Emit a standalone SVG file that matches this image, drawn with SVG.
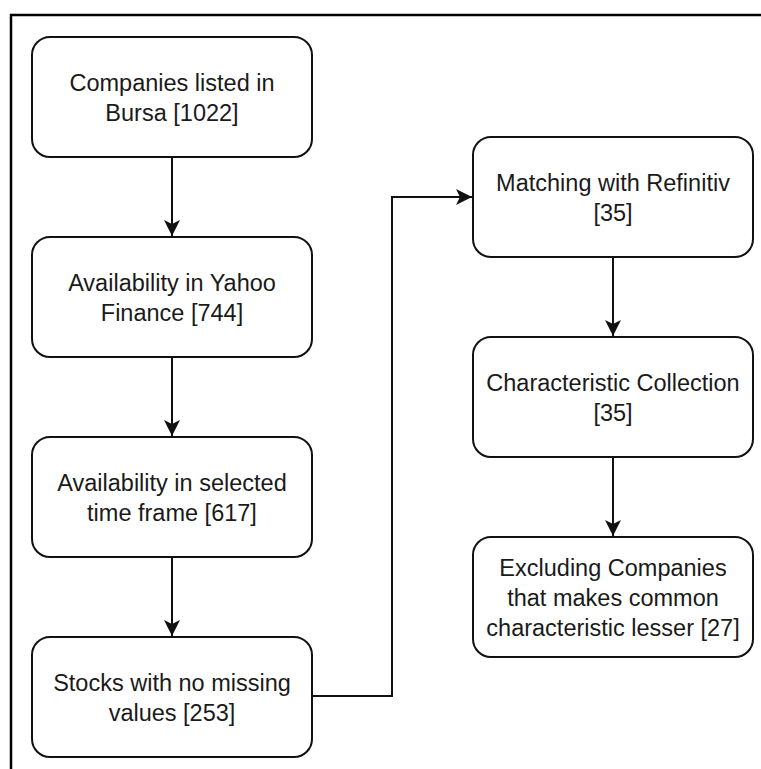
<svg xmlns="http://www.w3.org/2000/svg" width="761" height="769" viewBox="0 0 761 769">
<style>
.box{fill:#fff;stroke:#111;stroke-width:2}
.lbl{font-family:"Liberation Sans",Arial,sans-serif;font-size:23.5px;fill:#1a1a1a;text-anchor:middle}
.edge{fill:none;stroke:#111;stroke-width:2}
</style>
<defs>
<marker id="arr" viewBox="0 0 18 18" refX="17" refY="9" markerWidth="18" markerHeight="18" markerUnits="userSpaceOnUse" orient="auto">
<path d="M1,1 L17,9 L1,17 L5,9 Z" fill="#111"/>
</marker>
</defs>
<rect width="761" height="769" fill="#fff"/>
<path d="M11,769 V15 H761" fill="none" stroke="#000" stroke-width="2.5"/>
<g id="n1"><rect class="box" x="32" y="37" width="280" height="120" rx="18"/><text class="lbl" x="172" y="91">Companies listed in</text><text class="lbl" x="172" y="121">Bursa [1022]</text></g>
<g id="n2"><rect class="box" x="32" y="237" width="280" height="120" rx="18"/><text class="lbl" x="172" y="291">Availability in Yahoo</text><text class="lbl" x="172" y="321">Finance [744]</text></g>
<g id="n3"><rect class="box" x="32" y="437" width="280" height="120" rx="18"/><text class="lbl" x="172" y="491">Availability in selected</text><text class="lbl" x="172" y="521">time frame [617]</text></g>
<g id="n4"><rect class="box" x="32" y="637" width="280" height="120" rx="18"/><text class="lbl" x="172" y="691">Stocks with no missing</text><text class="lbl" x="172" y="721">values [253]</text></g>
<g id="n5"><rect class="box" x="473" y="137" width="280" height="120" rx="18"/><text class="lbl" x="613" y="191">Matching with Refinitiv</text><text class="lbl" x="613" y="221">[35]</text></g>
<g id="n6"><rect class="box" x="473" y="337" width="280" height="120" rx="18"/><text class="lbl" x="613" y="391">Characteristic Collection</text><text class="lbl" x="613" y="421">[35]</text></g>
<g id="n7"><rect class="box" x="473" y="537" width="280" height="120" rx="18"/><text class="lbl" x="613" y="576">Excluding Companies</text><text class="lbl" x="613" y="606">that makes common</text><text class="lbl" x="613" y="636">characteristic lesser [27]</text></g>
<g id="edges">
<path class="edge" d="M172,157 V236" marker-end="url(#arr)"/>
<path class="edge" d="M172,357 V436" marker-end="url(#arr)"/>
<path class="edge" d="M172,557 V636" marker-end="url(#arr)"/>
<path class="edge" d="M312,696 H392 V197 H472" marker-end="url(#arr)"/>
<path class="edge" d="M613,257 V336" marker-end="url(#arr)"/>
<path class="edge" d="M613,457 V536" marker-end="url(#arr)"/>
</g>
</svg>
